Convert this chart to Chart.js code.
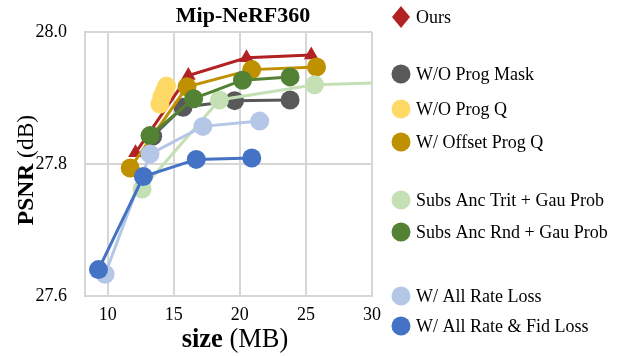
<!DOCTYPE html>
<html>
<head>
<meta charset="utf-8">
<script src="https://cdn.jsdelivr.net/npm/chart.js@4"></script>
<style>
  html, body { margin: 0; padding: 0; background: #fff; }
  #wrap { width: 624px; height: 356px; position: relative; }
</style>
</head>
<body>
<div id="wrap"><canvas id="myChart" width="624" height="356"></canvas></div>
<script>
// values
const labels = ['Ours', 'W/O Prog Mask', 'W/O Prog Q', 'W/ Offset Prog Q',
  'Subs Anc Trit + Gau Prob', 'Subs Anc Rnd + Gau Prob', 'W/ All Rate Loss', 'W/ All Rate & Fid Loss']

const sizeOurs = [12.1, 16.1, 20.5, 25.4]
const psnrOurs = [27.817, 27.934, 27.961, 27.965]
const sizeNoMask = [13.4, 15.7, 19.6, 23.8]
const psnrNoMask = [27.842, 27.886, 27.896, 27.897]
const sizeNoQ = [13.95, 14.1, 14.3, 14.45]
const psnrNoQ = [27.891, 27.902, 27.911, 27.918]
const sizeOffsetQ = [11.7, 16.0, 20.9, 25.8]
const psnrOffsetQ = [27.794, 27.917, 27.943, 27.947]
const sizeTrit = [12.6, 18.45, 25.65, 34]
const psnrTrit = [27.762, 27.897, 27.920, 27.925]
const sizeRnd = [13.2, 16.5, 20.2, 23.8]
const psnrRnd = [27.843, 27.899, 27.927, 27.932]
const sizeRate = [9.8, 13.2, 17.2, 21.5]
const psnrRate = [27.633, 27.815, 27.857, 27.865]
const sizeRateFid = [9.3, 12.7, 16.7, 20.9]
const psnrRateFid = [27.640, 27.781, 27.807, 27.809]

const xTicks = [10, 15, 20, 25, 30]
const yTicks = [27.6, 27.8, 28.0]

const colors = ['#B22222', '#595959', '#FFD966', '#BF9000', '#C5E0B4', '#548235', '#B4C7E7', '#4472C4']
const sizes = [sizeOurs, sizeNoMask, sizeNoQ, sizeOffsetQ, sizeTrit, sizeRnd, sizeRate, sizeRateFid]
const psnrs = [psnrOurs, psnrNoMask, psnrNoQ, psnrOffsetQ, psnrTrit, psnrRnd, psnrRate, psnrRateFid]

const legendY = [17, 74, 109, 142, 200, 232, 296, 326]
const serif = '"Liberation Serif", "Times New Roman", serif'

const datasets = labels.map((label, i) => ({
  label: label,
  data: sizes[i].map((x, j) => ({x: x, y: psnrs[i][j]})),
  borderColor: colors[i],
  backgroundColor: colors[i],
  borderWidth: 3,
  pointStyle: i == 0 ? 'triangle' : 'circle',
  pointRadius: i == 0 ? 8.5 : 9.5,
  pointBorderWidth: 0,
  showLine: true,
  order: 10 - i
}))

const extras = {
  id: 'extras',
  afterDraw(chart) {
    const ctx = chart.ctx
    ctx.save()
    ctx.fillStyle = '#000'
    // title
    ctx.font = 'bold 22px ' + serif
    ctx.textAlign = 'center'
    ctx.textBaseline = 'alphabetic'
    ctx.fillText('Mip-NeRF360', 243, 22)

    // axis titles, bold + normal
    const drawMixed = (a, b, size, cx, cy) => {
      ctx.font = 'bold ' + size + 'px ' + serif
      const wa = ctx.measureText(a).width
      ctx.font = size + 'px ' + serif
      const wb = ctx.measureText(b).width
      let x = cx - (wa + wb) / 2
      ctx.textAlign = 'left'
      ctx.font = 'bold ' + size + 'px ' + serif
      ctx.fillText(a, x, cy)
      ctx.font = size + 'px ' + serif
      ctx.fillText(b, x + wa, cy)
    }
    drawMixed('size', ' (MB)', 26.5, 235, 347)
    ctx.save()
    ctx.translate(33, 170)
    ctx.rotate(-Math.PI / 2)
    drawMixed('PSNR', ' (dB)', 23.5, 0, 0)
    ctx.restore()

    // legend
    ctx.font = '18px ' + serif
    ctx.textAlign = 'left'
    ctx.textBaseline = 'middle'
    labels.forEach((label, i) => {
      const y = legendY[i]
      ctx.fillStyle = colors[i]
      ctx.beginPath()
      if (i == 0) {
        ctx.moveTo(401, y - 11)
        ctx.lineTo(410, y)
        ctx.lineTo(401, y + 11)
        ctx.lineTo(392, y)
        ctx.closePath()
      } else {
        ctx.arc(401, y, 9.5, 0, Math.PI * 2)
      }
      ctx.fill()
      ctx.fillStyle = '#000'
      ctx.fillText(label, 416, y + 1)
    })
    ctx.restore()
  }
}

const gridColor = '#d6d6d6'
let myChart = new Chart(document.getElementById('myChart').getContext('2d'), {
  type: 'scatter',
  data: { datasets: datasets },
  options: {
    responsive: false,
    animation: false,
    layout: { padding: { left: 0, top: 32, right: 252, bottom: 0 } },
    plugins: {
      legend: { display: false },
      tooltip: { enabled: false },
      title: { display: false }
    },
    scales: {
      x: {
        type: 'linear',
        min: 8.28,
        max: 30,
        afterBuildTicks: scale => { scale.ticks = xTicks.map(v => ({value: v})) },
        afterFit: scale => { scale.height = 60 },
        grid: { color: gridColor, lineWidth: 2, drawTicks: false },
        border: { color: gridColor, width: 2 },
        ticks: { color: '#000', padding: 8, font: { family: serif, size: 18 } }
      },
      y: {
        min: 27.6,
        max: 28.0,
        afterBuildTicks: scale => { scale.ticks = yTicks.map(v => ({value: v})) },
        afterFit: scale => { scale.width = 85 },
        grid: { color: gridColor, lineWidth: 2, drawTicks: false },
        border: { color: gridColor, width: 2 },
        ticks: { color: '#000', padding: 18, font: { family: serif, size: 18 },
          callback: v => v.toFixed(1) }
      }
    }
  },
  plugins: [extras]
})
</script>
</body>
</html>
